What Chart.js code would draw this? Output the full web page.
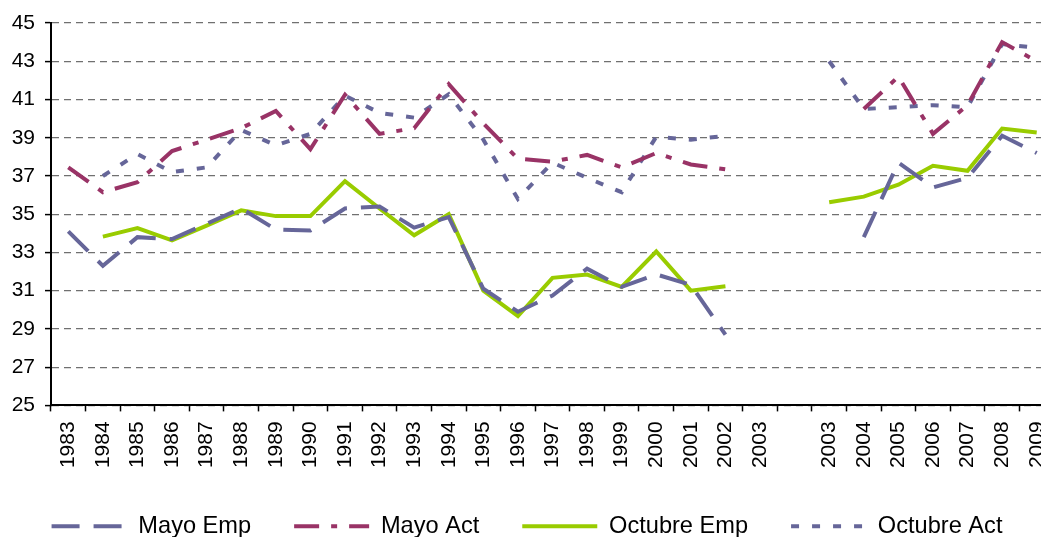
<!DOCTYPE html>
<html>
<head>
<meta charset="utf-8">
<script src="https://cdn.jsdelivr.net/npm/chart.js@4/dist/chart.umd.min.js"></script>
<style>
  html, body { margin: 0; padding: 0; background: #fff; }
  #wrap { width: 1041px; height: 537px; overflow: hidden; position: relative; }
  #chart { display: block; }
</style>
</head>
<body>
<div id="wrap"><canvas id="chart" width="1092" height="548"></canvas></div>
<script>
// category labels (the second 2003 block starts after one empty slot)
const years = ["1983", "1984", "1985", "1986", "1987", "1988", "1989", "1990", "1991", "1992",
  "1993", "1994", "1995", "1996", "1997", "1998", "1999", "2000", "2001", "2002", "2003",
  "",
  "2003", "2004", "2005", "2006", "2007", "2008", "2009"];

const mayoEmp = [34.1, 32.3, 33.8, 33.7, 34.5, 35.3, 34.2, 34.15, 35.3, 35.4,
  34.3, 34.85, 31.1, 29.9, 30.75, 32.15, 31.2, 31.85, 31.3, 28.7, null,
  null,
  null, 33.8, 37.7, 36.4, 36.9, 39.1, 38.2];

const mayoAct = [37.45, 36.15, 36.67, 38.3, 38.9, 39.5, 40.4, 38.4, 41.25, 39.2,
  39.5, 41.8, 39.75, 37.9, 37.75, 38.1, 37.45, 38.2, 37.6, 37.35, null,
  null,
  null, 40.5, 42.2, 39.2, 40.7, 44.0, 43.0];

const octubreEmp = [null, 33.83, 34.27, 33.63, 34.4, 35.2, 34.9, 34.9, 36.73, 35.3,
  33.9, 35.0, 31.0, 29.67, 31.67, 31.84, 31.2, 33.05, 31.0, 31.23, null,
  null,
  35.63, 35.92, 36.54, 37.53, 37.27, 39.48, 39.27];

const octubreAct = [null, 37.0, 38.15, 37.2, 37.45, 39.4, 38.6, 39.2, 41.2, 40.3,
  40.05, 41.27, 38.9, 35.8, 37.7, 36.9, 36.15, 39.05, 38.9, 39.1, null,
  null,
  43.0, 40.5, 40.6, 40.7, 40.6, 43.9, 43.7];

const FONT = "'Liberation Sans', Arial, sans-serif";
const SAMPLE_W = 75;

function line(label, data, color, dash) {
  return {
    label: label,
    data: data,
    borderColor: color,
    backgroundColor: color,
    borderWidth: 4,
    borderDash: dash,
    pointRadius: 0,
    pointHoverRadius: 0,
    pointStyle: "line",
    tension: 0,
    spanGaps: false,
    fill: false
  };
}

// draws the dashed line samples into the legend boxes
const legendLines = {
  id: "legendLines",
  afterDraw(chart) {
    const ctx = chart.ctx;
    const boxes = chart.legend.legendHitBoxes || [];
    boxes.forEach(function (hb, i) {
      const ds = chart.data.datasets[i];
      const y = hb.top + hb.height / 2;
      ctx.save();
      ctx.strokeStyle = ds.borderColor;
      ctx.lineWidth = ds.borderWidth;
      ctx.setLineDash(ds.borderDash || []);
      ctx.beginPath();
      ctx.moveTo(hb.left, y);
      ctx.lineTo(hb.left + SAMPLE_W, y);
      ctx.stroke();
      ctx.restore();
    });
  }
};

new Chart(document.getElementById("chart"), {
  type: "line",
  data: {
    labels: years,
    datasets: [
      line("Mayo Emp", mayoEmp, "#666699", [28, 14]),
      line("Mayo Act", mayoAct, "#993366", [25, 12, 6, 12]),
      line("Octubre Emp", octubreEmp, "#99CC00", []),
      line("Octubre Act", octubreAct, "#666699", [8, 13])
    ]
  },
  plugins: [legendLines],
  options: {
    responsive: false,
    animation: false,
    layout: { padding: { top: 23, right: 38, left: 0, bottom: 0 } },
    plugins: {
      tooltip: { enabled: false },
      legend: {
        position: "bottom",
        labels: {
          usePointStyle: true,
          pointStyleWidth: SAMPLE_W,
          padding: 43,
          color: "#000",
          font: { family: FONT, size: 23.6 },
          generateLabels(chart) {
            const items = Chart.defaults.plugins.legend.labels.generateLabels(chart);
            items.forEach(function (it) {
              it.strokeStyle = "rgba(0,0,0,0)";
              it.fillStyle = "rgba(0,0,0,0)";
            });
            return items;
          }
        }
      }
    },
    scales: {
      x: {
        offset: true,
        grid: {
          offset: true,
          drawOnChartArea: false,
          tickColor: "#000",
          tickLength: 6,
          tickWidth: 1.5
        },
        border: { color: "#000", width: 2 },
        ticks: {
          color: "#000",
          font: { family: FONT, size: 21 },
          autoSkip: false,
          maxRotation: 90,
          minRotation: 90,
          padding: 10
        },
        afterFit: function (s) { s.height = 66; }
      },
      y: {
        min: 25,
        max: 45,
        grid: {
          color: "#707070",
          lineWidth: 1.2,
          tickColor: "#000",
          tickLength: 6,
          tickWidth: 1.5
        },
        border: { color: "#000", width: 2, dash: [7, 5] },
        ticks: {
          stepSize: 2,
          color: "#000",
          font: { family: FONT, size: 21 },
          padding: 10
        },
        afterFit: function (s) { s.width = 51; }
      }
    }
  }
});
</script>
</body>
</html>
